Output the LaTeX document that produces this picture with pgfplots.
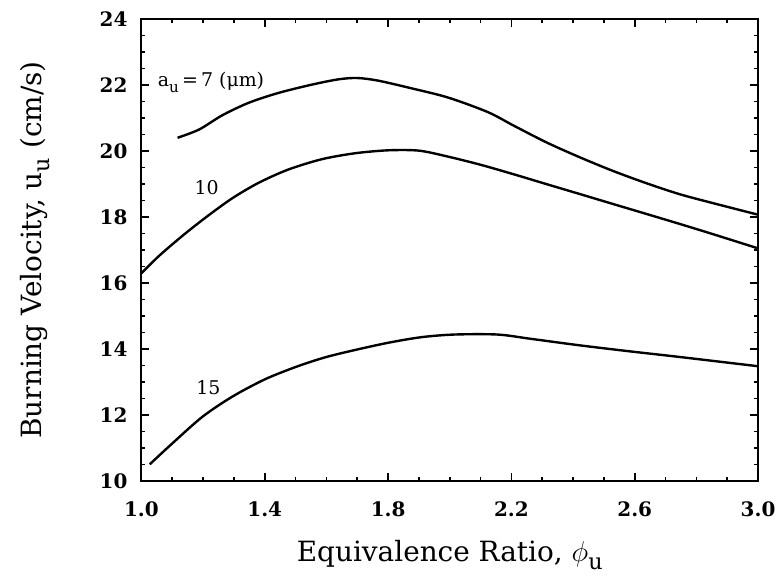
\documentclass[border=0pt]{standalone}
\usepackage{pgfplots}
\pgfplotsset{compat=1.18}
\usepackage{fontspec}
\setmainfont{DejaVu Serif}
\newcommand{\subu}{\raisebox{-0.55ex}{\fontsize{0.8em}{1em}\selectfont u}}
\begin{document}
\begin{tikzpicture}
\begin{axis}[
  scale only axis, width=309.5pt, height=232pt,
  xmin=1.0, xmax=3.0, ymin=10, ymax=24,
  xtick={1.0,1.4,1.8,2.2,2.6,3.0},
  xticklabels={1.0,1.4,1.8,2.2,2.6,3.0},
  ytick={10,12,14,16,18,20,22,24},
  minor x tick num=3, minor y tick num=3,
  tick align=inside, ticks=both,
  major tick length=4pt, minor tick length=2pt,
  tick style={black, line width=0.8pt},
  axis line style={line width=1pt},
  tick label style={font=\fontsize{10}{11}\selectfont\bfseries},
  /pgf/number format/assume math mode=true,
  xticklabel style={yshift=-7pt},
  yticklabel style={xshift=-3.5pt},
  xlabel={Equivalence Ratio, $\phi$\subu},
  ylabel={Burning Velocity, u\subu\ (cm/s)},
  label style={font=\fontsize{14}{16}\selectfont},
  xlabel style={at={(axis description cs:0.5,-0.16)}, anchor=center},
  ylabel style={at={(axis description cs:-0.173,0.5)}, anchor=center},
  clip=false,
]
\addplot[black, line width=1.2pt, smooth, tension=0.5] coordinates {
(1.117,20.40) (1.187,20.65) (1.262,21.08) (1.348,21.46) (1.445,21.76)
(1.553,22.01) (1.639,22.17) (1.700,22.21) (1.768,22.13) (1.875,21.90)
(1.994,21.62) (2.123,21.18) (2.209,20.76) (2.316,20.25) (2.424,19.80)
(2.531,19.39) (2.639,19.02) (2.746,18.69) (2.854,18.42) (3.0,18.07)};
\addplot[black, line width=1.2pt, smooth, tension=0.5] coordinates {
(1.0,16.30) (1.058,16.83) (1.133,17.43) (1.209,17.99) (1.295,18.57)
(1.381,19.04) (1.477,19.44) (1.585,19.75) (1.692,19.93) (1.80,20.02)
(1.90,20.01) (1.994,19.83) (2.101,19.58) (2.209,19.29) (2.316,18.99)
(2.424,18.69) (2.531,18.39) (2.639,18.09) (2.746,17.79) (2.854,17.48) (3.0,17.05)};
\addplot[black, line width=1.2pt, smooth, tension=0.5] coordinates {
(1.027,10.51) (1.101,11.15) (1.198,11.95) (1.295,12.56) (1.402,13.09)
(1.51,13.49) (1.600,13.76) (1.692,13.97) (1.80,14.19) (1.908,14.36)
(2.015,14.44) (2.155,14.44) (2.263,14.31) (2.424,14.11) (2.585,13.93)
(2.746,13.76) (3.0,13.48)};
\node[anchor=base west, inner sep=0pt, font=\fontsize{9.5}{10}\selectfont] at (axis cs:1.052,21.95) {a\subu\,=\,7 (μm)};
\node[anchor=base west, inner sep=0pt, font=\fontsize{9.5}{10}\selectfont] at (axis cs:1.171,18.69) {10};
\node[anchor=base west, inner sep=0pt, font=\fontsize{9.5}{10}\selectfont] at (axis cs:1.177,12.63) {15};
\end{axis}
\useasboundingbox (current axis.south west) ++(-71pt,-50pt) rectangle ([xshift=10.5pt,yshift=9.5pt]current axis.north east);
\end{tikzpicture}
\end{document}
